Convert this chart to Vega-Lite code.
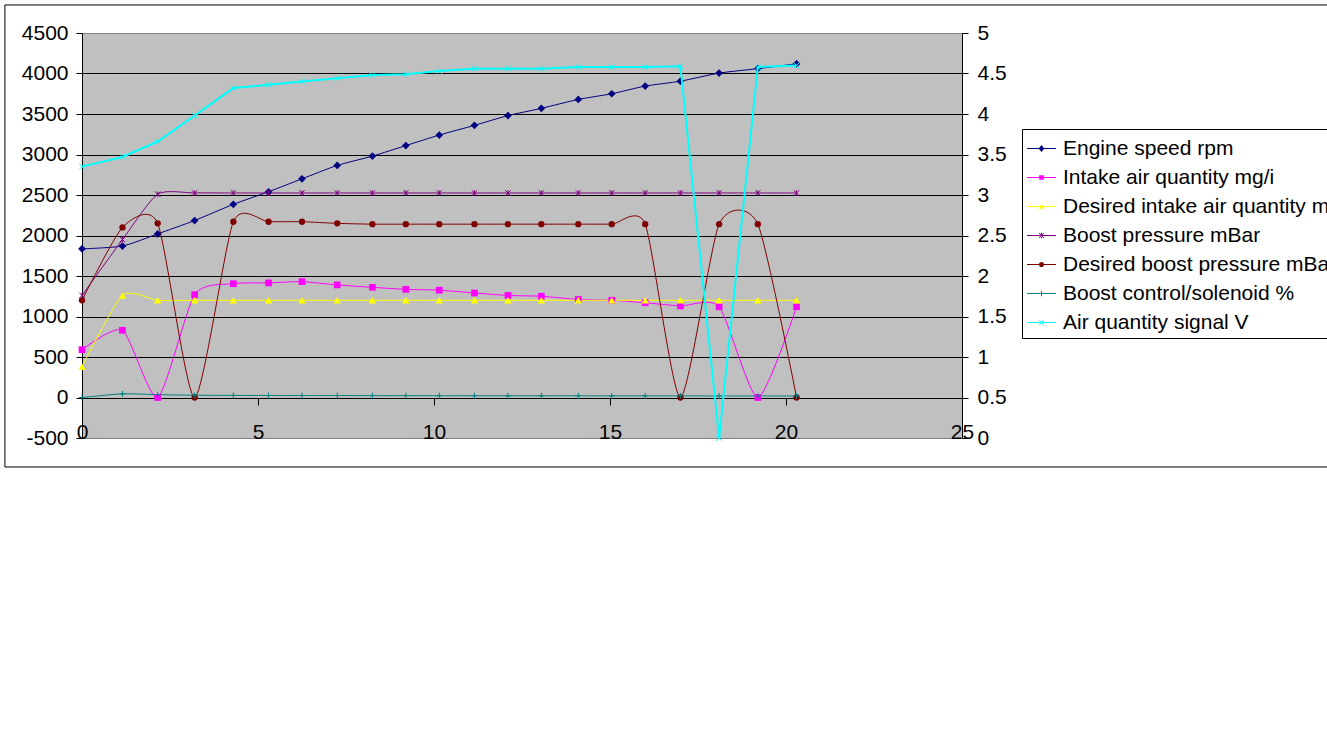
{
  "$schema": "https://vega.github.io/schema/vega-lite/v6.json",
  "width": 880,
  "height": 405,
  "autosize": {"type": "none"},
  "padding": {"left": 82, "top": 33, "right": 365, "bottom": 302},
  "background": "white",
  "config": {
    "font": "Liberation Sans",
    "view": {"fill": "#c0c0c0", "stroke": "#808080", "strokeWidth": 1},
    "axis": {"labelFont": "Liberation Sans", "labelFontSize": 21, "labelColor": "black", "domainColor": "black", "tickColor": "black", "domainWidth": 1, "tickWidth": 1, "labelOverlap": false, "labelFlush": false}
  },
  "data": {
    "values": [
      {"x": 0, "Engine speed rpm": 1835, "Intake air quantity mg/i": 590, "Desired intake air quantity mg/i": 380, "Boost pressure mBar": 1260, "Desired boost pressure mBar": 1200, "Boost control/solenoid %": 0, "Air quantity signal V": 3.35},
      {"x": 1.15, "Engine speed rpm": 1870, "Intake air quantity mg/i": 830, "Desired intake air quantity mg/i": 1260, "Boost pressure mBar": 1950, "Desired boost pressure mBar": 2100, "Boost control/solenoid %": 45, "Air quantity signal V": 3.47},
      {"x": 2.15, "Engine speed rpm": 2020, "Intake air quantity mg/i": 0, "Desired intake air quantity mg/i": 1200, "Boost pressure mBar": 2510, "Desired boost pressure mBar": 2150, "Boost control/solenoid %": 35, "Air quantity signal V": 3.66},
      {"x": 3.2, "Engine speed rpm": 2185, "Intake air quantity mg/i": 1270, "Desired intake air quantity mg/i": 1200, "Boost pressure mBar": 2525, "Desired boost pressure mBar": 0, "Boost control/solenoid %": 28, "Air quantity signal V": 3.98},
      {"x": 4.3, "Engine speed rpm": 2385, "Intake air quantity mg/i": 1405, "Desired intake air quantity mg/i": 1200, "Boost pressure mBar": 2525, "Desired boost pressure mBar": 2170, "Boost control/solenoid %": 26, "Air quantity signal V": 4.32},
      {"x": 5.3, "Engine speed rpm": 2540, "Intake air quantity mg/i": 1415, "Desired intake air quantity mg/i": 1200, "Boost pressure mBar": 2525, "Desired boost pressure mBar": 2170, "Boost control/solenoid %": 25, "Air quantity signal V": 4.36},
      {"x": 6.25, "Engine speed rpm": 2700, "Intake air quantity mg/i": 1430, "Desired intake air quantity mg/i": 1200, "Boost pressure mBar": 2525, "Desired boost pressure mBar": 2170, "Boost control/solenoid %": 24, "Air quantity signal V": 4.4},
      {"x": 7.25, "Engine speed rpm": 2865, "Intake air quantity mg/i": 1390, "Desired intake air quantity mg/i": 1200, "Boost pressure mBar": 2525, "Desired boost pressure mBar": 2150, "Boost control/solenoid %": 24, "Air quantity signal V": 4.44},
      {"x": 8.25, "Engine speed rpm": 2980, "Intake air quantity mg/i": 1360, "Desired intake air quantity mg/i": 1200, "Boost pressure mBar": 2525, "Desired boost pressure mBar": 2140, "Boost control/solenoid %": 23, "Air quantity signal V": 4.48},
      {"x": 9.2, "Engine speed rpm": 3110, "Intake air quantity mg/i": 1335, "Desired intake air quantity mg/i": 1200, "Boost pressure mBar": 2525, "Desired boost pressure mBar": 2140, "Boost control/solenoid %": 23, "Air quantity signal V": 4.49},
      {"x": 10.15, "Engine speed rpm": 3240, "Intake air quantity mg/i": 1325, "Desired intake air quantity mg/i": 1200, "Boost pressure mBar": 2525, "Desired boost pressure mBar": 2140, "Boost control/solenoid %": 22, "Air quantity signal V": 4.53},
      {"x": 11.15, "Engine speed rpm": 3360, "Intake air quantity mg/i": 1290, "Desired intake air quantity mg/i": 1200, "Boost pressure mBar": 2525, "Desired boost pressure mBar": 2140, "Boost control/solenoid %": 22, "Air quantity signal V": 4.56},
      {"x": 12.1, "Engine speed rpm": 3480, "Intake air quantity mg/i": 1260, "Desired intake air quantity mg/i": 1200, "Boost pressure mBar": 2525, "Desired boost pressure mBar": 2140, "Boost control/solenoid %": 21, "Air quantity signal V": 4.56},
      {"x": 13.05, "Engine speed rpm": 3570, "Intake air quantity mg/i": 1250, "Desired intake air quantity mg/i": 1200, "Boost pressure mBar": 2525, "Desired boost pressure mBar": 2140, "Boost control/solenoid %": 21, "Air quantity signal V": 4.56},
      {"x": 14.1, "Engine speed rpm": 3680, "Intake air quantity mg/i": 1210, "Desired intake air quantity mg/i": 1200, "Boost pressure mBar": 2525, "Desired boost pressure mBar": 2140, "Boost control/solenoid %": 21, "Air quantity signal V": 4.58},
      {"x": 15.05, "Engine speed rpm": 3750, "Intake air quantity mg/i": 1200, "Desired intake air quantity mg/i": 1200, "Boost pressure mBar": 2525, "Desired boost pressure mBar": 2140, "Boost control/solenoid %": 20, "Air quantity signal V": 4.58},
      {"x": 16.0, "Engine speed rpm": 3845, "Intake air quantity mg/i": 1170, "Desired intake air quantity mg/i": 1200, "Boost pressure mBar": 2525, "Desired boost pressure mBar": 2140, "Boost control/solenoid %": 20, "Air quantity signal V": 4.58},
      {"x": 17.0, "Engine speed rpm": 3905, "Intake air quantity mg/i": 1130, "Desired intake air quantity mg/i": 1200, "Boost pressure mBar": 2525, "Desired boost pressure mBar": 0, "Boost control/solenoid %": 20, "Air quantity signal V": 4.59},
      {"x": 18.1, "Engine speed rpm": 4005, "Intake air quantity mg/i": 1120, "Desired intake air quantity mg/i": 1200, "Boost pressure mBar": 2525, "Desired boost pressure mBar": 2140, "Boost control/solenoid %": 19, "Air quantity signal V": 0},
      {"x": 19.2, "Engine speed rpm": 4060, "Intake air quantity mg/i": 0, "Desired intake air quantity mg/i": 1200, "Boost pressure mBar": 2525, "Desired boost pressure mBar": 2140, "Boost control/solenoid %": 19, "Air quantity signal V": 4.58},
      {"x": 20.3, "Engine speed rpm": 4120, "Intake air quantity mg/i": 1120, "Desired intake air quantity mg/i": 1200, "Boost pressure mBar": 2525, "Desired boost pressure mBar": 0, "Boost control/solenoid %": 19, "Air quantity signal V": 4.6}
    ]
  },
  "transform": [
    {"fold": ["Engine speed rpm", "Intake air quantity mg/i", "Desired intake air quantity mg/i", "Boost pressure mBar", "Desired boost pressure mBar", "Boost control/solenoid %", "Air quantity signal V"], "as": ["series", "value"]}
  ],
  "encoding": {
    "x": {"field": "x", "type": "quantitative", "scale": {"domain": [0, 25], "nice": false, "zero": false},
      "axis": {"orient": "bottom", "offset": -40, "title": null, "values": [0, 5, 10, 15, 20, 25], "labelExpr": "'' + datum.value", "tickSize": 7, "labelPadding": 16, "labelFontSize": 21, "grid": false}}
  },
  "layer": [
    {
      "encoding": {
        "y": {"field": "value", "type": "quantitative", "scale": {"domain": [-500, 4500], "nice": false, "zero": false},
          "axis": {"orient": "left", "title": null, "values": [-500, 0, 500, 1000, 1500, 2000, 2500, 3000, 3500, 4000, 4500], "labelExpr": "'' + datum.value", "tickSize": 6, "labelPadding": 8, "labelFontSize": 21, "grid": true, "gridWidth": 1,
            "gridColor": {"condition": {"test": "datum.value === 4500 || datum.value === -500", "value": "transparent"}, "value": "black"}}}
      },
      "layer": [
        {
          "transform": [{"filter": "datum.series === 'Engine speed rpm' && datum.x === 0"}],
          "mark": {"type": "rect", "filled": false, "strokeWidth": 1},
          "encoding": {
            "x": {"datum": -2.19, "type": "quantitative"},
            "x2": {"datum": 40},
            "y": {"datum": 4846, "type": "quantitative"},
            "y2": {"datum": -858},
            "color": {"value": "black"}
          }
        },
        {
          "transform": [{"filter": "datum.series !== 'Air quantity signal V'"}],
          "mark": {"type": "line", "interpolate": "cardinal", "tension": 0.35, "strokeWidth": 1},
          "encoding": {
            "stroke": {"field": "series", "type": "nominal", "legend": null,
              "scale": {"domain": ["Engine speed rpm", "Intake air quantity mg/i", "Desired intake air quantity mg/i", "Boost pressure mBar", "Desired boost pressure mBar", "Boost control/solenoid %"],
                "range": ["#000080", "#ff00ff", "#ffff00", "#800080", "#800000", "#008080"]}}
          }
        },
        {
          "transform": [{"filter": "datum.series === 'Engine speed rpm'"}],
          "mark": {"type": "point", "filled": true, "shape": "diamond", "size": 60, "opacity": 1},
          "encoding": {"color": {"value": "#000080"}}
        },
        {
          "transform": [{"filter": "datum.series === 'Intake air quantity mg/i'"}],
          "mark": {"type": "point", "filled": true, "shape": "square", "size": 45, "opacity": 1},
          "encoding": {"color": {"value": "#ff00ff"}}
        },
        {
          "transform": [{"filter": "datum.series === 'Desired intake air quantity mg/i'"}],
          "mark": {"type": "point", "filled": true, "shape": "triangle-up", "size": 55, "opacity": 1},
          "encoding": {"color": {"value": "#ffff00"}}
        },
        {
          "transform": [{"filter": "datum.series === 'Boost pressure mBar'"}],
          "mark": {"type": "point", "filled": false, "shape": "M-1,-1L1,1M-1,1L1,-1M0,-1V1", "size": 30, "strokeWidth": 1, "opacity": 1},
          "encoding": {"color": {"value": "#800080"}}
        },
        {
          "transform": [{"filter": "datum.series === 'Desired boost pressure mBar'"}],
          "mark": {"type": "point", "filled": true, "shape": "circle", "size": 40, "opacity": 1},
          "encoding": {"color": {"value": "#800000"}}
        },
        {
          "transform": [{"filter": "datum.series === 'Boost control/solenoid %'"}],
          "mark": {"type": "point", "filled": false, "shape": "M-1,0H1M0,-1V1", "size": 36, "strokeWidth": 1, "opacity": 1},
          "encoding": {"color": {"value": "#008080"}}
        },
        {
          "transform": [{"filter": "datum.x === 0"}],
          "mark": {"type": "point", "filled": true, "opacity": 0},
          "encoding": {
            "fill": {"field": "series", "type": "nominal",
              "scale": {"domain": ["Engine speed rpm", "Intake air quantity mg/i", "Desired intake air quantity mg/i", "Boost pressure mBar", "Desired boost pressure mBar", "Boost control/solenoid %", "Air quantity signal V"],
                "range": ["#000080", "#ff00ff", "#ffff00", "#800080", "#800000", "#008080", "#00ffff"]},
              "legend": {"title": null, "orient": "none", "legendX": 940, "legendY": 96, "direction": "vertical", "strokeColor": "black", "fillColor": "white", "padding": 5, "symbolSize": 841, "symbolStrokeWidth": 0, "symbolOpacity": 1, "labelFont": "Liberation Sans", "labelFontSize": 21, "labelColor": "black", "labelOffset": 7, "labelLimit": 1000, "rowPadding": 4}},
            "shape": {"field": "series", "type": "nominal",
              "scale": {"domain": ["Engine speed rpm", "Intake air quantity mg/i", "Desired intake air quantity mg/i", "Boost pressure mBar", "Desired boost pressure mBar", "Boost control/solenoid %", "Air quantity signal V"],
                "range": [
                  "M-1,-0.035H1V0.035H-1ZM-0.2,0L0,-0.24L0.2,0L0,0.24Z",
                  "M-1,-0.035H1V0.035H-1ZM-0.16,-0.16H0.16V0.16H-0.16Z",
                  "M-1,-0.035H1V0.035H-1ZM-0.2,0.16L0,-0.2L0.2,0.16Z",
                  "M-1,-0.035H1V0.035H-1ZM-0.19,-0.15L0.15,0.19L0.19,0.15L-0.15,-0.19ZM-0.19,0.15L0.15,-0.19L0.19,-0.15L-0.15,0.19ZM-0.035,-0.19H0.035V0.19H-0.035Z",
                  "M-1,-0.035H1V0.035H-1ZM0.18,0A0.18,0.18 0 1,1 -0.18,0A0.18,0.18 0 1,1 0.18,0Z",
                  "M-1,-0.035H1V0.035H-1ZM-0.035,-0.19H0.035V0.19H-0.035Z",
                  "M-1,-0.035H1V0.035H-1ZM-0.19,-0.15L0.15,0.19L0.19,0.15L-0.15,-0.19ZM-0.19,0.15L0.15,-0.19L0.19,-0.15L-0.15,0.19Z"
                ]},
              "legend": {"title": null, "orient": "none", "legendX": 940, "legendY": 96, "direction": "vertical", "strokeColor": "black", "fillColor": "white", "padding": 5, "symbolSize": 841, "symbolStrokeWidth": 0, "symbolOpacity": 1, "labelFont": "Liberation Sans", "labelFontSize": 21, "labelColor": "black", "labelOffset": 7, "labelLimit": 1000, "rowPadding": 4}}
          }
        }
      ]
    },
    {
      "transform": [{"filter": "datum.series === 'Air quantity signal V'"}],
      "encoding": {
        "y": {"field": "value", "type": "quantitative", "scale": {"domain": [0, 5], "nice": false, "zero": false},
          "axis": {"orient": "right", "title": null, "values": [0, 0.5, 1, 1.5, 2, 2.5, 3, 3.5, 4, 4.5, 5], "labelExpr": "'' + datum.value", "tickSize": 6, "labelPadding": 9, "labelFontSize": 21, "grid": false}},
        "color": {"value": "#00ffff"}
      },
      "layer": [
        {"mark": {"type": "line", "interpolate": "linear", "strokeWidth": 2}},
        {"mark": {"type": "point", "filled": false, "shape": "M-1,-1L1,1M-1,1L1,-1", "size": 30, "strokeWidth": 1, "opacity": 1}}
      ]
    }
  ],
  "resolve": {"scale": {"y": "independent"}}
}
